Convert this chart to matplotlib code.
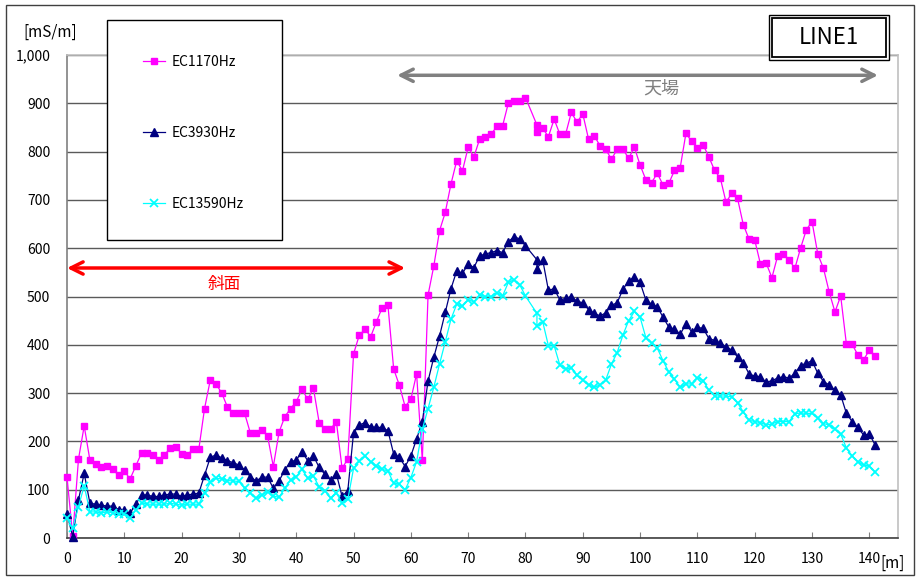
import matplotlib
matplotlib.use("Agg")
import matplotlib.pyplot as plt
from matplotlib.patches import Rectangle

plt.rcParams["font.family"] = ["Noto Sans CJK JP", "DejaVu Sans"]

# ==========================================================
# Data
# ==========================================================

# measuring positions [m]; there are two readings at 82 m
distance = list(range(0, 81)) + [82, 82] + list(range(83, 142))

ec1170 = [
    126, 5, 163, 232, 161, 153, 148, 149, 142, 130,
    139, 122, 149, 176, 177, 172, 161, 172, 186, 189,
    174, 172, 184, 184, 268, 327, 319, 300, 271, 258,
    258, 258, 217, 217, 224, 211, 148, 219, 251, 268,
    282, 308, 287, 310, 239, 226, 226, 241, 144, 164,
    381, 420, 432, 417, 448, 477, 482, 350, 316, 272,
    287, 340, 161, 503, 563, 636, 674, 733, 781, 760,
    809, 789, 826, 830, 836, 852, 853, 900, 905, 905,
    912, 855, 841, 848, 831, 867, 836, 836, 881, 861,
    878, 826, 833, 812, 805, 784, 805, 805, 786, 809,
    772, 742, 736, 755, 731, 734, 761, 767, 838, 821,
    808, 814, 789, 761, 745, 695, 714, 703, 649, 619,
    617, 567, 569, 539, 584, 588, 576, 558, 600, 638,
    655, 588, 558, 509, 468, 501, 401, 401, 379, 369,
    389, 377,
]

ec3930 = [
    50, 3, 79, 134, 72, 70, 68, 66, 66, 59,
    59, 51, 70, 89, 89, 86, 86, 89, 91, 91,
    86, 89, 91, 93, 130, 167, 172, 166, 160, 156,
    151, 141, 127, 118, 126, 126, 103, 118, 141, 158,
    161, 179, 160, 170, 146, 132, 120, 133, 86, 98,
    218, 234, 239, 230, 229, 229, 222, 174, 167, 148,
    170, 205, 241, 325, 374, 418, 467, 516, 553, 548,
    567, 560, 584, 588, 591, 595, 591, 613, 624, 619,
    605, 576, 557, 576, 513, 516, 493, 496, 500, 490,
    487, 473, 465, 460, 466, 482, 487, 515, 532, 541,
    529, 493, 484, 479, 457, 437, 432, 422, 443, 427,
    436, 434, 413, 409, 403, 396, 389, 375, 363, 340,
    335, 334, 322, 326, 331, 334, 331, 341, 357, 362,
    367, 341, 324, 317, 306, 296, 258, 241, 229, 213,
    215, 193,
]

ec13590 = [
    41, 20, 65, 108, 54, 54, 52, 54, 52, 50,
    50, 41, 58, 73, 70, 70, 70, 70, 72, 70,
    68, 70, 70, 70, 93, 115, 124, 122, 119, 118,
    117, 103, 93, 82, 89, 96, 87, 84, 103, 120,
    127, 142, 124, 128, 106, 98, 82, 93, 73, 80,
    144, 159, 170, 158, 149, 142, 139, 113, 112, 100,
    125, 158, 225, 268, 312, 360, 406, 453, 484, 480,
    493, 489, 504, 500, 500, 508, 501, 529, 535, 524,
    501, 465, 439, 448, 398, 398, 358, 349, 353, 337,
    327, 317, 312, 317, 327, 360, 384, 420, 450, 469,
    457, 415, 403, 393, 367, 344, 329, 312, 319, 319,
    332, 326, 306, 294, 294, 294, 292, 280, 261, 244,
    241, 239, 234, 236, 241, 241, 241, 257, 259, 258,
    258, 248, 237, 234, 225, 215, 186, 170, 158, 151,
    149, 137,
]

x_ticks = [0, 10, 20, 30, 40, 50, 60, 70, 80, 90, 100, 110, 120, 130, 140]
y_ticks = [0, 100, 200, 300, 400, 500, 600, 700, 800, 900, 1000]

# zones marked on the chart: (start, end) in metres
slope_zone = (0, 59)
top_zone = (57.6, 141.5)

# ==========================================================
# Figure
# ==========================================================

W, H = 917, 577


def fx(px):
    return px / W


def fy(py):
    return 1 - py / H


fig = plt.figure(figsize=(W / 100, H / 100), dpi=100)
ax = fig.add_axes([fx(67), fy(538), fx(898) - fx(67), fy(55) - fy(538)])

ax.plot(distance, ec1170, color="#FF00FF", lw=0.9, marker="s", ms=5,
        mec="#FF00FF", label="EC1170Hz", clip_on=False, zorder=3)
ax.plot(distance, ec3930, color="#000080", lw=0.9, marker="^", ms=6,
        mec="#000080", label="EC3930Hz", clip_on=False, zorder=4)
ax.plot(distance, ec13590, color="#00FFFF", lw=0.9, marker="x", ms=6,
        mew=1.3, label="EC13590Hz", clip_on=False, zorder=5)

ax.set_xlim(0, 145)
ax.set_ylim(0, 1000)
ax.set_xticks(x_ticks)
ax.set_yticks(y_ticks)
ax.set_yticklabels([f"{v:,}" for v in y_ticks])

ax.grid(axis="y", color="#5a5a5a", lw=1)
ax.set_axisbelow(True)
ax.tick_params(axis="x", direction="in", length=4, color="#808080",
               labelsize=10, pad=10)
ax.tick_params(axis="y", length=0, labelsize=10, pad=12)

ax.spines["left"].set_color("#808080")
ax.spines["bottom"].set_color("#404040")
ax.spines["top"].set_color("#c0c0c0")
ax.spines["right"].set_color("#c0c0c0")
for s in ax.spines.values():
    s.set_linewidth(1.2)

# zone arrows
ax.annotate("", xy=(slope_zone[0], 559), xytext=(slope_zone[1], 559),
            arrowprops=dict(arrowstyle="<->", color="red", lw=2.5,
                            mutation_scale=22, shrinkA=0, shrinkB=0),
            annotation_clip=False)
ax.text(27.4, 524, "斜面", color="red", fontsize=12, ha="center", va="center")

ax.annotate("", xy=(top_zone[0], 958), xytext=(top_zone[1], 958),
            arrowprops=dict(arrowstyle="<->", color="#808080", lw=2.5,
                            mutation_scale=22, shrinkA=0, shrinkB=0),
            annotation_clip=False)
ax.text(103.6, 930, "天場", color="#808080", fontsize=13,
        ha="center", va="center")

# axis unit labels
fig.text(fx(50), fy(32), "[mS/m]", fontsize=11, ha="center", va="center")
fig.text(fx(893), fy(563), "[m]", fontsize=11, ha="center", va="center")

# legend box
fig.patches.append(Rectangle((fx(107), fy(240)), fx(282) - fx(107),
                             fy(20) - fy(240), transform=fig.transFigure,
                             facecolor="white", edgecolor="black", lw=1,
                             zorder=10))
leg = fig.legend(loc="upper left", bbox_to_anchor=(fx(136), fy(48)),
                 frameon=False, fontsize=10, handlelength=1.6,
                 handletextpad=0.5, labelspacing=4.1, borderpad=0)
leg.set_zorder(11)

# LINE1 title box (double border)
fig.patches.append(Rectangle((fx(769), fy(60)), fx(889) - fx(769),
                             fy(15) - fy(60), transform=fig.transFigure,
                             facecolor="white", edgecolor="black", lw=1,
                             zorder=10))
fig.patches.append(Rectangle((fx(772), fy(57)), fx(886) - fx(772),
                             fy(18) - fy(57), transform=fig.transFigure,
                             facecolor="none", edgecolor="black", lw=1.3,
                             zorder=11))
fig.text(fx(829), fy(38), "LINE1", fontsize=16, ha="center", va="center",
         zorder=12)

# outer chart border
fig.patches.append(Rectangle((fx(6), fy(575)), fx(914) - fx(6),
                             fy(5) - fy(575), transform=fig.transFigure,
                             facecolor="none", edgecolor="#404040", lw=1))

fig.savefig("out.png", dpi=100)
